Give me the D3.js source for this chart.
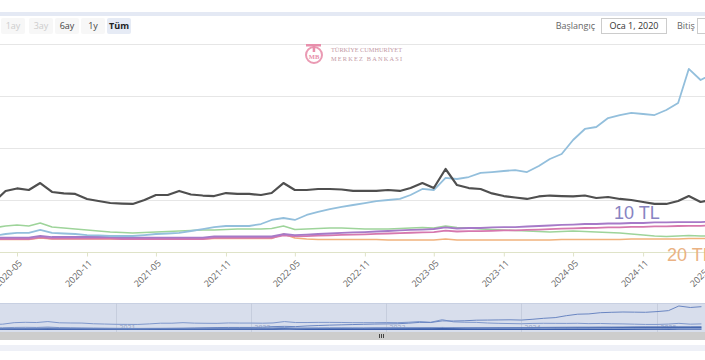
<!DOCTYPE html>
<html><head><meta charset="utf-8">
<script src="https://cdn.jsdelivr.net/npm/d3@7"></script>
<style>
html,body{margin:0;padding:0;background:#fff;overflow:hidden}
svg{display:block;font-family:"Open Sans","Liberation Sans",sans-serif}
</style></head>
<body><svg id="c" width="705" height="360"></svg>
<script>
// ---- data (monthly, 2020-01 .. 2025-05) ----
const months = ["2020-01","2020-02","2020-03","2020-04","2020-05","2020-06","2020-07","2020-08","2020-09","2020-10","2020-11","2020-12",
"2021-01","2021-02","2021-03","2021-04","2021-05","2021-06","2021-07","2021-08","2021-09","2021-10","2021-11","2021-12",
"2022-01","2022-02","2022-03","2022-04","2022-05","2022-06","2022-07","2022-08","2022-09","2022-10","2022-11","2022-12",
"2023-01","2023-02","2023-03","2023-04","2023-05","2023-06","2023-07","2023-08","2023-09","2023-10","2023-11","2023-12",
"2024-01","2024-02","2024-03","2024-04","2024-05","2024-06","2024-07","2024-08","2024-09","2024-10","2024-11","2024-12",
"2025-01","2025-02","2025-03","2025-04","2025-05"];
const seriesBlack = [45.2,46.2,48.1,58.7,61.1,59.6,66.3,57.7,56.3,55.8,51.0,49.0,47.1,46.6,46.2,50.0,54.8,54.8,58.7,55.3,54.3,53.8,56.7,55.8,55.8,54.8,56.7,66.3,59.6,59.6,60.6,60.6,60.1,58.7,58.7,58.7,59.6,58.7,61.5,66.3,61.5,79.8,64.4,61.5,60.6,56.3,53.8,52.4,51.0,53.4,54.3,53.8,53.4,54.3,51.9,52.9,51.0,50.0,48.1,46.2,46.2,49.0,53.8,48.1,50.0];
const seriesBlue = [15.4,15.4,15.4,17.3,18.3,18.3,21.2,18.3,17.8,17.3,16.3,15.9,15.4,15.4,15.4,16.3,17.3,17.8,18.3,20.2,22.1,24.0,25.0,25.0,25.0,26.9,30.8,32.7,30.8,35.6,38.5,41.3,43.3,45.2,47.1,49.0,50.0,51.0,54.8,60.6,59.6,71.2,70.2,72.1,76.0,76.9,77.9,78.8,76.9,82.7,89.4,94.2,107.7,118.3,120.2,128.8,131.7,133.7,132.7,131.7,136.5,143.3,176.0,165.4,171.2];
const seriesGreen = [21.2,22.1,23.1,25.0,26.0,25.0,27.9,24.0,23.1,22.1,21.2,20.2,19.2,18.8,18.3,18.8,19.2,19.7,20.2,20.7,21.2,21.2,21.6,22.1,22.1,22.1,22.6,25.0,21.6,22.1,22.6,23.1,23.1,22.6,22.1,22.1,22.1,22.6,23.1,23.6,23.1,25.0,23.6,23.1,22.1,21.6,21.2,20.7,20.2,19.7,19.2,19.7,20.2,19.7,19.2,18.8,18.3,17.3,16.3,15.4,14.9,15.4,15.9,15.4,15.4];
const seriesPurple = [13.5,13.9,13.9,13.9,13.9,13.9,15.4,14.4,14.4,14.4,14.4,14.4,14.4,13.9,13.9,13.9,13.9,13.9,13.9,13.9,13.9,14.9,14.9,14.9,14.9,14.9,14.9,17.3,16.3,16.8,17.3,17.8,18.3,18.8,19.2,19.7,20.2,20.7,21.2,21.6,22.1,23.6,22.6,23.1,23.1,23.6,24.0,24.0,24.5,25.0,25.5,26.0,26.4,26.9,26.9,27.4,27.4,27.9,27.9,28.4,28.4,28.8,28.8,28.8,29.3];
const seriesPink = [12.5,12.5,12.5,12.5,12.5,12.5,14.0,13.0,13.0,13.0,13.0,13.0,13.0,12.5,12.5,12.5,12.5,12.5,12.5,12.5,12.5,13.5,13.5,13.5,13.5,13.5,13.5,16.0,15.0,15.3,15.7,16.0,16.4,16.7,17.0,17.4,17.8,18.1,18.5,18.8,19.2,20.6,19.7,20.0,20.0,20.4,20.7,20.8,21.2,21.6,22.0,22.4,22.7,23.1,23.2,23.6,23.7,24.1,24.2,24.6,24.7,25.0,25.1,25.2,25.6];
const seriesOrange = [12.0,12.0,12.0,12.0,12.0,12.0,13.5,12.5,12.5,12.5,12.5,12.5,12.5,12.5,12.5,12.5,12.5,12.5,12.5,12.5,12.5,13.0,13.0,13.0,13.0,13.0,13.0,17.3,13.5,12.5,12.0,12.0,12.0,12.0,12.0,12.0,11.5,11.5,11.5,11.5,11.5,12.5,11.5,11.5,11.5,11.5,11.5,11.5,11.5,11.5,11.5,12.0,12.0,12.0,12.0,12.0,12.0,12.5,12.5,12.5,12.5,12.5,13.0,13.0,13.0];
const xTicks = ["2020-05","2020-11","2021-05","2021-11","2022-05","2022-11","2023-05","2023-11","2024-05","2024-11","2025-05"];
const yTicks = [0,50,100,150,200];
const navYears = ["2021","2022","2023","2024","2025"];
const rangeButtons = ["1ay","3ay","6ay","1y","Tüm"];
const seriesLabels = ["10 TL","20 TL"];

const parseM = d3.timeParse("%Y-%m");
const dates = months.map(parseM);
const svg = d3.select("#c");

// top band
svg.append("rect").attr("x",0).attr("y",12).attr("width",705).attr("height",4).attr("fill","#e4e9f4");

// scales
const x = d3.scaleTime().domain([parseM("2020-05"), parseM("2025-05")]).range([17, 712]);
const y = d3.scaleLinear().domain([0,200]).range([252,44]);

// gridlines
svg.append("g").selectAll("line").data(yTicks.slice(1)).join("line")
  .attr("x1",0).attr("x2",705).attr("y1",d=>y(d)+0.5).attr("y2",d=>y(d)+0.5)
  .attr("stroke","#e6e6e6").attr("stroke-width",1);

// x axis
const xa = svg.append("g").attr("transform","translate(0,252.5)")
  .call(d3.axisBottom(x).tickValues(xTicks.map(parseM)).tickFormat(d3.timeFormat("%Y-%m")).tickSizeInner(4).tickSizeOuter(0));
xa.select(".domain").attr("stroke","#dfe3c8").attr("d","M0,0H705");
xa.selectAll(".tick line").attr("stroke","#dfe3c8");
xa.selectAll(".tick text").attr("x",0).attr("y",0).attr("dy","0.35em")
  .attr("transform","translate(3,9) rotate(-45)").style("text-anchor","end")
  .attr("fill","#666").attr("font-size","9px").attr("font-family","Open Sans, sans-serif");

// logo
const logo = svg.append("g").attr("fill","#e88fac");
logo.append("circle").attr("cx",314).attr("cy",55).attr("r",8).attr("fill","none").attr("stroke","#ea9ab3").attr("stroke-width",2);
logo.append("rect").attr("x",306).attr("y",44).attr("width",15).attr("height",2.5);
logo.append("rect").attr("x",312.7).attr("y",44).attr("width",2.5).attr("height",8);
logo.append("text").attr("x",314).attr("y",59).attr("text-anchor","middle").attr("font-size","6.5px").attr("font-weight","bold").attr("font-family","Liberation Serif, serif").text("MB");
svg.append("text").attr("x",331).attr("y",52).attr("font-size","6.3px").attr("fill","#c49aa6").attr("font-family","Liberation Serif, serif").attr("textLength",71).text("TÜRKİYE CUMHURİYET");
svg.append("text").attr("x",331).attr("y",61).attr("font-size","6.3px").attr("fill","#c49aa6").attr("font-family","Liberation Serif, serif").attr("textLength",71).text("MERKEZ BANKASI");

// lines
const line = d3.line().x((d,i)=>x(dates[i])).y(d=>y(d)).curve(d3.curveLinear);
const lineDefs = [
  {data:seriesOrange, color:"#f1b27c", w:1.6},
  {data:seriesGreen, color:"#9ed49a", w:1.6},
  {data:seriesPink, color:"#d678ae", w:1.8},
  {data:seriesPurple, color:"#a67ac8", w:1.8},
  {data:seriesBlue, color:"#93bfdc", w:1.8},
  {data:seriesBlack, color:"#4f4f4f", w:2.2}
];
svg.append("g").selectAll("path").data(lineDefs).join("path")
  .attr("d",d=>line(d.data)).attr("fill","none").attr("stroke",d=>d.color).attr("stroke-width",d=>d.w)
  .attr("stroke-linejoin","round");

// series labels
svg.append("text").attr("x",614).attr("y",219).attr("font-size","18px").attr("font-family","Liberation Sans, Arial, sans-serif").attr("fill","#8784c2").text(seriesLabels[0]);
svg.append("text").attr("x",667).attr("y",261).attr("font-size","18px").attr("font-family","Liberation Sans, Arial, sans-serif").attr("fill","#eab283").text(seriesLabels[1]);

// range selector
const btnX = [13,41,67,93,119];
const bg = svg.append("g");
rangeButtons.forEach((b,i)=>{
  const sel = b==="Tüm", dis = i<2;
  bg.append("rect").attr("x",btnX[i]-12).attr("y",18).attr("width",24).attr("height",16).attr("rx",2)
    .attr("fill", sel ? "#e6ebf5" : "#f7f7f7");
  bg.append("text").attr("x",btnX[i]).attr("y",29).attr("text-anchor","middle").attr("font-size","9px")
    .attr("font-weight", sel ? "bold" : "normal").attr("fill", dis ? "#cccccc" : (sel ? "#222" : "#444")).text(b);
});
svg.append("text").attr("x",595).attr("y",29).attr("text-anchor","end").attr("font-size","9px").attr("fill","#666").text("Başlangıç");
svg.append("rect").attr("x",601.5).attr("y",18.5).attr("width",65).attr("height",15).attr("fill","#fff").attr("stroke","#cccccc");
svg.append("text").attr("x",634).attr("y",29).attr("text-anchor","middle").attr("font-size","9px").attr("fill","#333").text("Oca 1, 2020");
svg.append("text").attr("x",677).attr("y",29).attr("font-size","9px").attr("fill","#666").text("Bitiş");
svg.append("rect").attr("x",697.5).attr("y",18.5).attr("width",30).attr("height",15).attr("fill","#fff").attr("stroke","#cccccc");

// navigator
const nx = d3.scaleTime().domain([new Date(2021,0,1), new Date(2025,0,1)]).range([116,657]);
const ny = d3.scaleLinear().domain([0,190]).range([331,304]);
svg.append("rect").attr("x",0).attr("y",303).attr("width",705).attr("height",29).attr("fill","#d8deec");
svg.append("line").attr("x1",0).attr("x2",705).attr("y1",303.5).attr("y2",303.5).attr("stroke","#c8d0e2");
const ng = svg.append("g");
navYears.forEach(yr=>{
  const xx = Math.round(nx(new Date(+yr,0,1)))+0.5;
  ng.append("line").attr("x1",xx).attr("x2",xx).attr("y1",303).attr("y2",332).attr("stroke","#c6cddd");
  ng.append("text").attr("x",xx+3).attr("y",330).attr("font-size","7px").attr("fill","#9aa6c4").text(yr);
});
const nline = d3.line().x((d,i)=>nx(dates[i])).y(d=>ny(d));
const navDefs = [
  {data:seriesOrange, color:"#3c5eaa", w:1.4},
  {data:seriesPink, color:"#3c5eaa", w:1.4},
  {data:seriesPurple, color:"#5a78b8", w:1},
  {data:seriesGreen, color:"#7f98cc", w:1},
  {data:seriesBlack, color:"#7f98cc", w:1},
  {data:seriesBlue, color:"#6a86c2", w:1}
];
ng.selectAll("path").data(navDefs).join("path").attr("d",d=>nline(d.data)).attr("fill","none")
  .attr("stroke",d=>d.color).attr("stroke-width",d=>d.w);
// scrollbar
svg.append("rect").attr("x",0).attr("y",332).attr("width",705).attr("height",8).attr("fill","#cdcdcd");
[379,381,383].forEach(gx=>svg.append("line").attr("x1",gx+0.5).attr("x2",gx+0.5).attr("y1",334).attr("y2",338).attr("stroke","#444").attr("stroke-width",1));
svg.append("rect").attr("x",0).attr("y",345).attr("width",705).attr("height",6).attr("fill","#eef0f7");
</script></body></html>
